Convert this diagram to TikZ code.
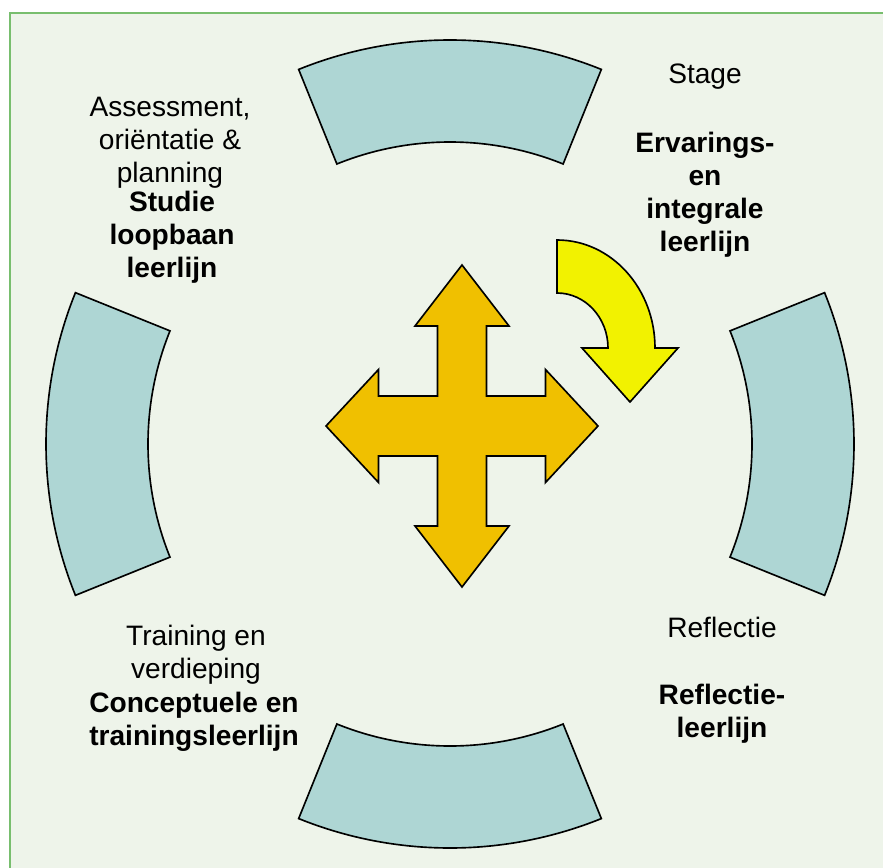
\documentclass[tikz,border=0pt]{standalone}
\usepackage{fontspec}
\setmainfont{Liberation Sans}
\usetikzlibrary{positioning,calc}
\definecolor{bgcol}{RGB}{238,244,234}
\definecolor{framecol}{RGB}{120,190,110}
\definecolor{segcol}{RGB}{174,214,212}
\definecolor{crosscol}{RGB}{240,192,0}
\definecolor{turncol}{RGB}{242,242,0}
\tikzset{
  seg/.style  ={fill=segcol, draw=black, line width=1.4pt},
  outl/.style ={draw=black, line width=1.4pt, line join=miter},
}

\begin{document}
\begin{tikzpicture}[x=0.03cm, y=0.03cm,
  lbl/.style={font=\fontsize{24}{28}\selectfont, align=center, anchor=base, inner sep=0pt},
  lblb/.style={lbl, font=\fontsize{24}{28}\selectfont\bfseries}
]

%--- Frame ---
\useasboundingbox (0,0) rectangle (883,-868);
\draw[fill=bgcol, draw=framecol, line width=1.3pt] (10,-13) rectangle (900,-890);

%--- Ring of four segments (radii in px) ---
\def\rout{404}
\def\rin{302}
\def\half{22}
\coordinate (c) at (450,-444);
\begin{scope}[shift={(c)}]
  \foreach \a in {0,90,180,270}
    \draw[seg] (\a-\half:\rout) arc[start angle=\a-\half, end angle=\a+\half, radius=\rout]
      -- (\a+\half:\rin) arc[start angle=\a+\half, end angle=\a-\half, radius=\rin] -- cycle;
\end{scope}

%--- Four-way arrow in the middle ---
\coordinate (m) at (462,-426);
\begin{scope}[shift={(m)}]
  \draw[outl, fill=crosscol] (0,161) -- (47,100) -- (24.5,100) -- (24.5,30) -- (83.5,30)
    -- (83.5,56.5) -- (136,0) -- (83.5,-56.5) -- (83.5,-30) -- (24.5,-30) -- (24.5,-100)
    -- (47,-100) -- (0,-161) -- (-47,-100) -- (-24.5,-100) -- (-24.5,-30) -- (-83.5,-30)
    -- (-83.5,-56.5) -- (-136,0) -- (-83.5,56.5) -- (-83.5,30) -- (-24.5,30) -- (-24.5,100)
    -- (-47,100) -- cycle;
\end{scope}

%--- Curved arrow (clockwise turn) ---
\coordinate (t) at (557,-348);
\begin{scope}[shift={(t)}]
  \draw[outl, fill=turncol] (0,108) arc[start angle=90, end angle=0, x radius=98, y radius=108]
    -- (121,0) -- (73,-54) -- (25,0) -- (51,0)
    arc[start angle=0, end angle=90, x radius=51, y radius=55] -- cycle;
\end{scope}

%--- Labels (base = baseline of the last line) ---
\node[lbl]  (assess)  at (170,-182) {Assessment,\\ oriëntatie \&\\ planning};
\node[lblb] (studie)  at (172,-277) {Studie\\ loopbaan\\ leerlijn};
\node[lbl]  (stage)   at (705,-83)  {Stage};
\node[lblb] (ervar)   at (705,-251) {Ervarings-\\ en\\ integrale\\ leerlijn};
\node[lbl]  (train)   at (196,-678) {Training en\\ verdieping};
\node[lblb] (concept) at (194,-745) {Conceptuele en\\ trainingsleerlijn};
\node[lbl]  (refl)    at (722,-637) {Reflectie};
\node[lblb] (reflll)  at (722,-737) {Reflectie-\\ leerlijn};

\end{tikzpicture}
\end{document}
